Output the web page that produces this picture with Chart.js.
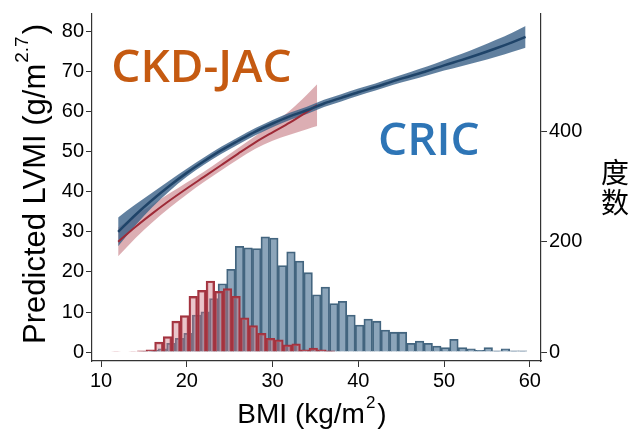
<!DOCTYPE html>
<html lang="en">
<head>
  <meta charset="UTF-8" />
  <title>Predicted LVMI by BMI</title>
  <script src="https://cdn.jsdelivr.net/npm/chart.js"></script>
  <style>
    html, body { margin: 0; padding: 0; background: #fff; }
  </style>
</head>
<body>
  <canvas id="chart" width="632" height="432"></canvas>

  <script>
    const cohorts = ["CRIC", "CKD-JAC"];
    const rightAxisName = ["度", "数"];

    // tick labels
    const xTicks = [10, 20, 30, 40, 50, 60];
    const yTicks = [0, 10, 20, 30, 40, 50, 60, 70, 80];
    const y2Ticks = [0, 200, 400];

    // CRIC histogram (bin centres, counts)
    const cricBins = [15.15, 16.15, 17.15, 18.15, 19.15, 20.15, 21.15, 22.15, 23.15, 24.15,
      25.15, 26.15, 27.15, 28.15, 29.15, 30.15, 31.15, 32.15, 33.15, 34.15,
      35.15, 36.15, 37.15, 38.15, 39.15, 40.15, 41.15, 42.15, 43.15, 44.15,
      45.15, 46.15, 47.15, 48.15, 49.15, 50.15, 51.15, 52.15, 53.15, 54.15,
      55.15, 56.15, 57.15, 58.15, 59.15];
    const cricCounts = [1, 3, 6, 16, 25, 34, 67, 73, 97, 124,
      150, 192, 189, 188, 209, 207, 157, 182, 165, 144,
      104, 118, 88, 92, 67, 49, 60, 56, 40, 36,
      36, 16, 20, 16, 11, 8, 23, 8, 6, 3,
      8, 2, 6, 2, 2];

    // CKD-JAC histogram (bin centres, counts)
    const jacBins = [11.75, 12.75, 13.75, 14.75, 15.75, 16.75, 17.75, 18.75, 19.75, 20.75,
      21.75, 22.75, 23.75, 24.75, 25.75, 26.75, 27.75, 28.75, 29.75, 30.75,
      31.75, 32.75, 33.75, 34.75, 35.75, 36.75];
    const jacCounts = [1, 0, 1, 2, 4, 18, 28, 56, 66, 101,
      112, 129, 110, 115, 101, 62, 48, 34, 25, 22,
      13, 15, 4, 7, 4, 2];

    // CRIC predicted LVMI with 95% band
    const cricBmi = [12, 14, 16, 18, 20, 22, 24, 26, 28, 30, 32, 34, 36, 38, 40, 42, 44, 46, 48, 50, 52, 54, 56, 58, 59.5];
    const cricFit = [30.0, 34.2, 38.0, 41.5, 44.7, 47.6, 50.3, 52.7, 55.0, 57.0, 58.8, 60.3, 62.0, 63.4, 64.8, 66.1, 67.5, 68.8, 70.1, 71.5, 72.8, 74.2, 75.7, 77.3, 78.6];
    const cricLo = [26.4, 31.6, 36.2, 40.2, 43.7, 46.7, 49.4, 51.8, 54.1, 56.1, 57.9, 59.4, 61.1, 62.5, 63.9, 65.2, 66.6, 67.8, 69.0, 70.2, 71.3, 72.4, 73.6, 74.9, 75.9];
    const cricHi = [33.6, 36.8, 39.8, 42.8, 45.7, 48.5, 51.2, 53.6, 55.9, 57.9, 59.7, 61.2, 62.9, 64.3, 65.7, 67.0, 68.4, 69.8, 71.2, 72.8, 74.3, 76.0, 77.8, 79.7, 81.3];

    // CKD-JAC predicted LVMI with 95% band
    const jacBmi = [12, 14, 16, 18, 20, 22, 24, 26, 28, 30, 32, 34, 35.2];
    const jacFit = [27.5, 31.2, 34.6, 37.8, 40.8, 43.7, 46.6, 49.5, 52.3, 54.8, 57.2, 59.9, 61.6];
    const jacLo = [23.9, 28.4, 32.4, 36.0, 39.3, 42.4, 45.3, 48.1, 50.7, 52.7, 54.2, 55.6, 56.4];
    const jacHi = [31.1, 34.0, 36.8, 39.6, 42.3, 45.0, 47.9, 50.9, 53.9, 56.9, 60.2, 64.2, 66.8];

    const FONT = '"Liberation Sans", Arial, sans-serif';
    const pts = (xs, ys) => xs.map((x, i) => ({ x: x, y: ys[i] }));
    const setTicks = list => axis => { axis.ticks = list.map(v => ({ value: v })); };

    const lineStyle = { pointRadius: 0, cubicInterpolationMode: "monotone", xAxisID: "x", yAxisID: "y" };
    const barStyle = { barPercentage: 1, categoryPercentage: 1, grouped: false, yAxisID: "y2", borderSkipped: "start" };

    const xRange = { min: 8.95, max: 61.3 };

    // axis titles, cohort labels and the vertical right title
    const overlay = {
      id: "overlay",
      afterDraw(chart) {
        const ctx = chart.ctx;
        const sx = chart.scales.x, sy = chart.scales.y;
        ctx.save();
        ctx.fillStyle = "#000";
        richTitle(ctx, 45, 184, -Math.PI / 2, "Predicted LVMI (g/m", "2.7", ")", 31);
        richTitle(ctx, 312, 423, 0, "BMI (kg/m", "2", ")", 28);

        ctx.font = '28px "Noto Sans CJK SC"';
        ctx.textAlign = "center";
        ctx.textBaseline = "middle";
        ctx.fillText(rightAxisName[0], 615, 172);
        ctx.fillText(rightAxisName[1], 615, 202);

        ctx.textAlign = "left";
        ctx.textBaseline = "alphabetic";
        ctx.font = '600 46px "Open Sans"';
        ctx.fillStyle = "#c55a11";
        ctx.fillText(cohorts[1], sx.getPixelForValue(11.2), sy.getPixelForValue(67.3));
        ctx.fillStyle = "#2e75b6";
        ctx.fillText(cohorts[0], sx.getPixelForValue(42.3), sy.getPixelForValue(49.2));
        ctx.restore();
      }
    };

    function richTitle(ctx, x, y, angle, main, sup, tail, size) {
      const big = size + "px " + FONT;
      const small = Math.round(size * 0.6) + "px " + FONT;
      ctx.save();
      ctx.translate(x, y);
      ctx.rotate(angle);
      ctx.font = big;
      const w1 = ctx.measureText(main).width;
      const w3 = ctx.measureText(tail).width;
      ctx.font = small;
      const w2 = ctx.measureText(sup).width;
      let cx = -(w1 + w2 + w3 + 3) / 2;
      ctx.textAlign = "left";
      ctx.textBaseline = "alphabetic";
      ctx.font = big;
      ctx.fillText(main, cx, 0);
      cx += w1 + 1;
      ctx.font = small;
      ctx.fillText(sup, cx, -size * 0.55);
      cx += w2 + 2;
      ctx.font = big;
      ctx.fillText(tail, cx, 0);
      ctx.restore();
    }

    const tickGrid = { display: true, drawOnChartArea: false, drawTicks: true, tickLength: 6, color: "#333", offset: false };
    const axisBorder = { display: true, color: "#333", width: 1.2 };
    const tickFont = { color: "#000", font: { family: FONT, size: 20 }, padding: 2, maxRotation: 0 };

    new Chart(document.getElementById("chart"), {
      type: "bar",
      data: {
        datasets: [
          // histograms (right axis)
          Object.assign({ type: "bar", label: cohorts[0] + " n", data: pts(cricBins, cricCounts), xAxisID: "xc",
            backgroundColor: "#8ca5ba", borderColor: "#43657f", borderWidth: 1.8, order: 8 }, barStyle),
          Object.assign({ type: "bar", label: cohorts[1] + " n", data: pts(jacBins, jacCounts), xAxisID: "xj",
            backgroundColor: "rgba(205,120,130,0.42)", borderColor: "#a3333f", borderWidth: 1.8, order: 7 }, barStyle),

          // CKD-JAC band + line
          Object.assign({ type: "line", label: "jac hi", data: pts(jacBmi, jacHi), borderWidth: 0,
            backgroundColor: "rgba(196,120,128,0.6)", fill: "+1", order: 6 }, lineStyle),
          Object.assign({ type: "line", label: "jac lo", data: pts(jacBmi, jacLo), borderWidth: 0, fill: false, order: 6 }, lineStyle),

          // CRIC band + line
          Object.assign({ type: "line", label: "cric hi", data: pts(cricBmi, cricHi), borderWidth: 0,
            backgroundColor: "rgba(62,100,138,0.82)", fill: "+1", order: 5 }, lineStyle),
          Object.assign({ type: "line", label: "cric lo", data: pts(cricBmi, cricLo), borderWidth: 0, fill: false, order: 5 }, lineStyle),

          Object.assign({ type: "line", label: cohorts[1], data: pts(jacBmi, jacFit), borderColor: "#9e2a37",
            borderWidth: 2, fill: false, order: 2 }, lineStyle),
          Object.assign({ type: "line", label: cohorts[0], data: pts(cricBmi, cricFit), borderColor: "#1f4469",
            borderWidth: 2.5, fill: false, order: 1 }, lineStyle)
        ]
      },
      options: {
        responsive: false,
        animation: false,
        layout: { padding: { top: 13 } },
        plugins: { legend: { display: false }, tooltip: { enabled: false } },
        scales: {
          x: {
            type: "linear", position: "bottom", min: xRange.min, max: xRange.max, offset: false,
            afterBuildTicks: setTicks(xTicks),
            afterFit: s => { s.height = 71; },
            grid: tickGrid, border: axisBorder, ticks: tickFont
          },
          xc: { type: "linear", display: false, offset: false, min: xRange.min, max: xRange.max },
          xj: { type: "linear", display: false, offset: false, min: xRange.min, max: xRange.max },
          y: {
            type: "linear", position: "left", min: -2.2, max: 84.3,
            afterBuildTicks: setTicks(yTicks),
            afterFit: s => { s.width = 92; },
            grid: tickGrid, border: axisBorder, ticks: tickFont
          },
          y2: {
            type: "linear", position: "right", min: -16.3, max: 613.6,
            afterBuildTicks: setTicks(y2Ticks),
            afterFit: s => { s.width = 91; },
            grid: tickGrid, border: axisBorder, ticks: tickFont
          }
        }
      },
      plugins: [overlay]
    });
  </script>
</body>
</html>
